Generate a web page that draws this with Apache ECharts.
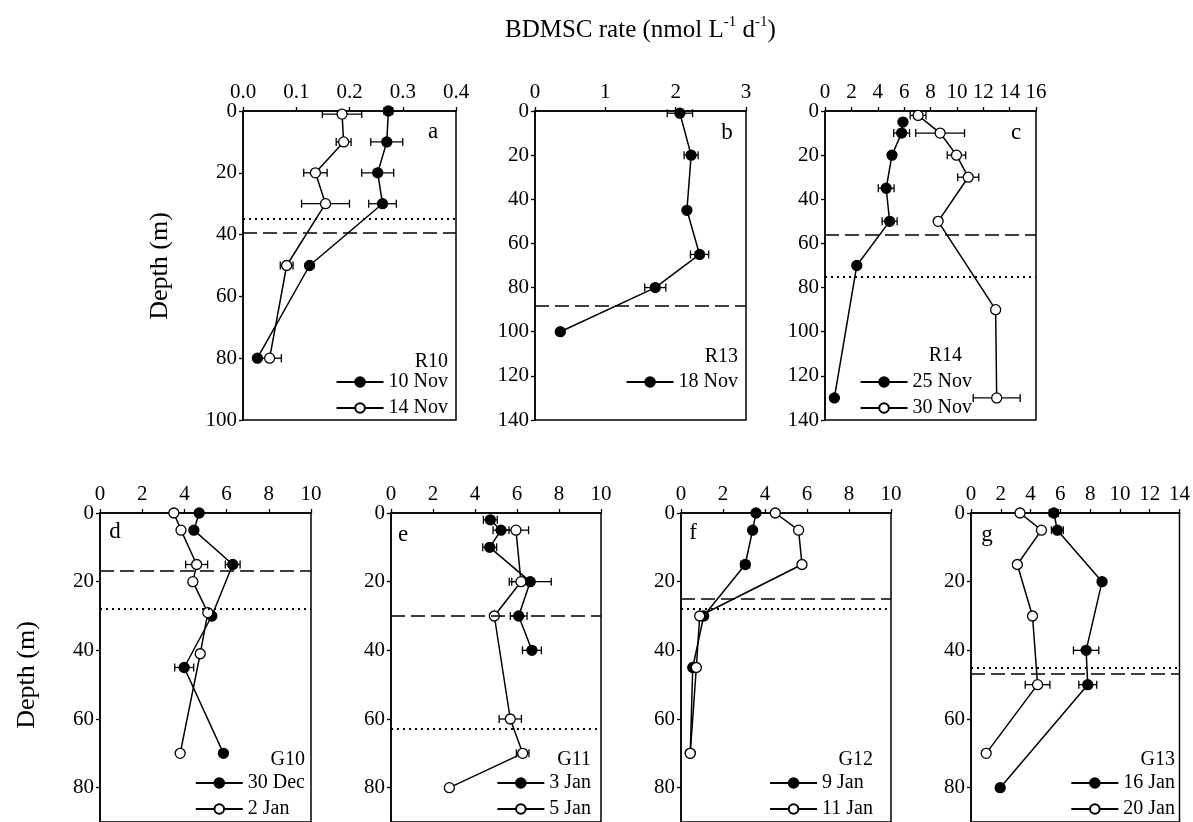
<!DOCTYPE html>
<html>
<head>
<meta charset="utf-8">
<script src="https://cdn.jsdelivr.net/npm/echarts@6/dist/echarts.min.js"></script>
<style>
  html, body { margin: 0; padding: 0; background: #fff; }
  #chart { width: 1193px; height: 822px; }
</style>
</head>
<body>
<div id="chart"></div>
<script>
// ---- data (rate, depth in m, +/- error) ----
// panel a, R10
const depth10Nov = [0, 10, 20, 30, 50, 80];
const rate10Nov = [0.273, 0.270, 0.253, 0.262, 0.125, 0.027];
const err10Nov = [0.008, 0.03, 0.03, 0.026, 0, 0];
const depth14Nov = [1, 10, 20, 30, 50, 80];
const rate14Nov = [0.186, 0.189, 0.136, 0.155, 0.082, 0.050];
const err14Nov = [0.037, 0.014, 0.022, 0.045, 0.012, 0.022];
// panel b, R13
const depth18Nov = [1, 20, 45, 65, 80, 100];
const rate18Nov = [2.06, 2.22, 2.16, 2.34, 1.71, 0.36];
const err18Nov = [0.18, 0.1, 0, 0.13, 0.15, 0];
// panel c, R14
const depth25Nov = [5, 10, 20, 35, 50, 70, 130];
const rate25Nov = [5.91, 5.81, 5.08, 4.64, 4.90, 2.41, 0.71];
const err25Nov = [0, 0.6, 0, 0.6, 0.57, 0, 0];
const depth30Nov = [2, 10, 20, 30, 50, 90, 130];
const rate30Nov = [7.06, 8.73, 9.97, 10.86, 8.58, 12.94, 13.02];
const err30Nov = [0.6, 1.85, 0.7, 0.8, 0, 0, 1.78];
// panel d, G10
const depth30Dec = [0, 5, 15, 30, 45, 70];
const rate30Dec = [4.70, 4.45, 6.29, 5.30, 3.99, 5.85];
const err30Dec = [0, 0, 0.35, 0, 0.45, 0.15];
const depth2Jan = [0, 5, 15, 20, 29, 41, 70];
const rate2Jan = [3.50, 3.84, 4.58, 4.40, 5.11, 4.75, 3.80];
const err2Jan = [0, 0, 0.52, 0, 0, 0, 0];
// panel e, G11
const depth3Jan = [2, 5, 10, 20, 30, 40];
const rate3Jan = [4.73, 5.24, 4.70, 6.63, 6.08, 6.71];
const err3Jan = [0.33, 0.38, 0.33, 1.0, 0.4, 0.45];
const depth5Jan = [5, 20, 30, 60, 70, 80];
const rate5Jan = [5.95, 6.19, 4.92, 5.68, 6.27, 2.78];
const err5Jan = [0.6, 0.44, 0, 0.53, 0.3, 0];
// panel f, G12
const depth9Jan = [0, 5, 15, 30, 45, 70];
const rate9Jan = [3.57, 3.41, 3.06, 1.08, 0.56, 0.44];
const err9Jan = [0, 0, 0.2, 0, 0, 0];
const depth11Jan = [0, 5, 15, 30, 45, 70];
const rate11Jan = [4.49, 5.60, 5.76, 0.89, 0.73, 0.44];
const err11Jan = [0, 0, 0, 0, 0, 0];
// panel g, G13
const depth16Jan = [0, 5, 20, 40, 50, 80];
const rate16Jan = [5.56, 5.80, 8.80, 7.73, 7.84, 1.96];
const err16Jan = [0.3, 0.4, 0, 0.85, 0.6, 0];
const depth20Jan = [0, 5, 15, 30, 50, 70];
const rate20Jan = [3.29, 4.73, 3.11, 4.13, 4.47, 1.02];
const err20Jan = [0, 0, 0, 0, 0.83, 0];

// depth of the dashed and dotted reference lines per panel
const dashedDepth = [39.3, 88.4, 56, 16.8, 30, 25, 46.9];
const dottedDepth = [35, null, 75.2, 28, 62.8, 28, 45.2];

const panelLetters = ['a', 'b', 'c', 'd', 'e', 'f', 'g'];
const stations = ['R10', 'R13', 'R14', 'G10', 'G11', 'G12', 'G13'];

const FONT = 'Liberation Serif';

// layout of every panel
const panels = [
  { left: 243, top: 111, width: 213, xMax: 0.4, xInt: 0.1, yMax: 100, dec: 1,
    profiles: [['10 Nov', rate10Nov, depth10Nov, err10Nov, true], ['14 Nov', rate14Nov, depth14Nov, err14Nov, false]],
    letter: [433, 132], stationRight: 745, stationY: 362, legendRight: 745, legendTop: 372 },
  { left: 535, top: 111, width: 211, xMax: 3, xInt: 1, yMax: 140, dec: 0,
    profiles: [['18 Nov', rate18Nov, depth18Nov, err18Nov, true]],
    letter: [727, 133], stationRight: 455, stationY: 357, legendRight: 455, legendTop: 372 },
  { left: 825, top: 111, width: 211, xMax: 16, xInt: 2, yMax: 140, dec: 0,
    profiles: [['25 Nov', rate25Nov, depth25Nov, err25Nov, true], ['30 Nov', rate30Nov, depth30Nov, err30Nov, false]],
    letter: [1016, 133], stationRight: 231, stationY: 356, legendRight: 221, legendTop: 372 },
  { left: 100, top: 513, width: 211, xMax: 10, xInt: 2, yMax: 90, dec: 0,
    profiles: [['30 Dec', rate30Dec, depth30Dec, err30Dec, true], ['2 Jan', rate2Jan, depth2Jan, err2Jan, false]],
    letter: [115, 532], stationRight: 888, stationY: 760, legendRight: 888, legendTop: 773 },
  { left: 391, top: 513, width: 210, xMax: 10, xInt: 2, yMax: 90, dec: 0,
    profiles: [['3 Jan', rate3Jan, depth3Jan, err3Jan, true], ['5 Jan', rate5Jan, depth5Jan, err5Jan, false]],
    letter: [403, 535], stationRight: 602, stationY: 760, legendRight: 602, legendTop: 773 },
  { left: 681, top: 513, width: 210, xMax: 10, xInt: 2, yMax: 90, dec: 0,
    profiles: [['9 Jan', rate9Jan, depth9Jan, err9Jan, true], ['11 Jan', rate11Jan, depth11Jan, err11Jan, false]],
    letter: [693, 533], stationRight: 320, stationY: 760, legendRight: 320, legendTop: 773 },
  { left: 971, top: 513, width: 210, xMax: 14, xInt: 2, yMax: 90, dec: 0,
    profiles: [['16 Jan', rate16Jan, depth16Jan, err16Jan, true], ['20 Jan', rate20Jan, depth20Jan, err20Jan, false]],
    letter: [987, 535], stationRight: 18, stationY: 760, legendRight: 18, legendTop: 773 }
];

function renderErr(params, api) {
  const lo = api.coord([api.value(0), api.value(2)]);
  const hi = api.coord([api.value(1), api.value(2)]);
  const h = 4;
  const st = { stroke: '#000', lineWidth: 1.3 };
  return {
    type: 'group',
    children: [
      { type: 'line', shape: { x1: lo[0], y1: lo[1], x2: hi[0], y2: hi[1] }, style: st },
      { type: 'line', shape: { x1: lo[0], y1: lo[1] - h, x2: lo[0], y2: lo[1] + h }, style: st },
      { type: 'line', shape: { x1: hi[0], y1: hi[1] - h, x2: hi[0], y2: hi[1] + h }, style: st }
    ]
  };
}

const grid = [], xAxis = [], yAxis = [], series = [], legend = [], graphic = [];
const axisTxt = { fontFamily: FONT, fontSize: 21, color: '#000' };

panels.forEach((p, i) => {
  grid.push({ left: p.left, top: p.top, width: p.width, height: 309,
    show: true, borderColor: '#000', borderWidth: 1.5, backgroundColor: 'transparent' });
  xAxis.push({
    type: 'value', gridIndex: i, position: 'top', min: 0, max: p.xMax, interval: p.xInt,
    axisLine: { show: true, lineStyle: { color: '#000', width: 1.5 } },
    axisTick: { show: true, inside: false, length: 4, lineStyle: { color: '#000', width: 1.3 } },
    splitLine: { show: false },
    axisLabel: Object.assign({ margin: 8, formatter: v => v.toFixed(p.dec) }, axisTxt)
  });
  yAxis.push({
    type: 'value', gridIndex: i, inverse: true, min: 0, max: p.yMax, interval: 20,
    axisLine: { show: true, lineStyle: { color: '#000', width: 1.5 } },
    axisTick: { show: true, inside: false, length: 4, lineStyle: { color: '#000', width: 1.3 } },
    splitLine: { show: false },
    axisLabel: Object.assign({ margin: 6, showMaxLabel: p.yMax !== 90 }, axisTxt)
  });

  p.profiles.forEach((pr, k) => {
    const [name, rate, depth, err, filled] = pr;
    const s = {
      type: 'line', name: name, xAxisIndex: i, yAxisIndex: i, z: 3,
      data: rate.map((r, j) => [r, depth[j]]),
      symbol: 'circle', symbolSize: 10, showAllSymbol: true,
      lineStyle: { color: '#000', width: 1.5 },
      itemStyle: { color: filled ? '#000' : '#fff', borderColor: '#000', borderWidth: 1.3 },
      emphasis: { disabled: true }, silent: true, animation: false
    };
    if (k === 0) {
      const ml = [];
      if (dashedDepth[i] != null) ml.push({ yAxis: dashedDepth[i], lineStyle: { type: [14, 6], width: 1.6, color: '#000' } });
      if (dottedDepth[i] != null) ml.push({ yAxis: dottedDepth[i], lineStyle: { type: [2, 4], width: 2, color: '#000' } });
      s.markLine = { silent: true, symbol: 'none', label: { show: false }, data: ml, animation: false };
    }
    series.push(s);
    const errData = [];
    err.forEach((e, j) => { if (e > 0) errData.push([rate[j] - e, rate[j] + e, depth[j]]); });
    series.push({
      type: 'custom', name: name + ' err', xAxisIndex: i, yAxisIndex: i, z: 2,
      renderItem: renderErr, encode: { x: [0, 1], y: 2 }, data: errData, silent: true, animation: false
    });
  });

  legend.push({
    data: p.profiles.map(pr => pr[0]), orient: 'vertical', right: p.legendRight, top: p.legendTop,
    padding: 0, itemGap: 6, itemWidth: 47, itemHeight: 12, selectedMode: false,
    textStyle: { fontFamily: FONT, fontSize: 20, color: '#000' }
  });

  graphic.push({ type: 'text', x: p.letter[0], y: p.letter[1],
    style: { text: panelLetters[i], font: '23px "Liberation Serif"', fill: '#000', textAlign: 'center', textVerticalAlign: 'middle' } });
  graphic.push({ type: 'text', x: 1193 - p.stationRight, y: p.stationY,
    style: { text: stations[i], font: '20px "Liberation Serif"', fill: '#000', textAlign: 'right', textVerticalAlign: 'middle' } });
});

graphic.push({ type: 'text', x: 160, y: 266, rotation: Math.PI / 2,
  style: { text: 'Depth (m)', font: '26px "Liberation Serif"', fill: '#000', textAlign: 'center', textVerticalAlign: 'middle' } });
graphic.push({ type: 'text', x: 27, y: 675, rotation: Math.PI / 2,
  style: { text: 'Depth (m)', font: '26px "Liberation Serif"', fill: '#000', textAlign: 'center', textVerticalAlign: 'middle' } });

const chart = echarts.init(document.getElementById('chart'), null, { renderer: 'canvas' });
chart.setOption({
  animation: false,
  backgroundColor: '#fff',
  title: {
    text: 'BDMSC rate (nmol L{sup|-1} d{sup|-1})',
    left: 500, top: 10,
    textStyle: {
      fontFamily: FONT, fontSize: 25, fontWeight: 'normal', color: '#000', lineHeight: 30,
      rich: { sup: { fontFamily: FONT, fontSize: 15, verticalAlign: 'top', lineHeight: 16, color: '#000' } }
    }
  },
  grid: grid,
  xAxis: xAxis,
  yAxis: yAxis,
  legend: legend,
  graphic: graphic,
  series: series
});
</script>
</body>
</html>
